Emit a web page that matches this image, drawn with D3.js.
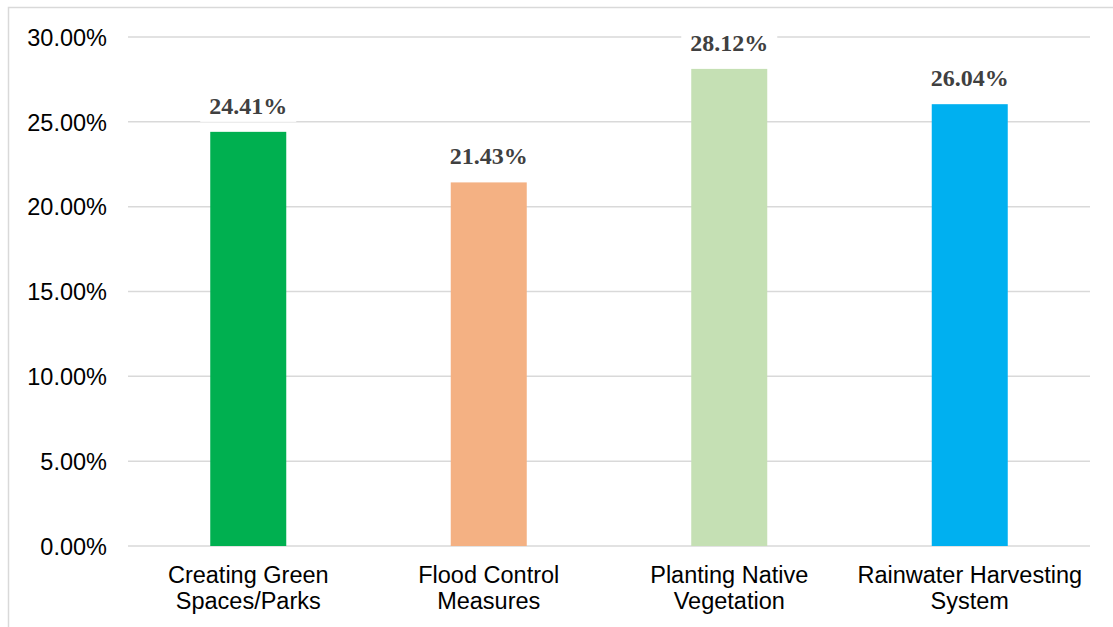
<!DOCTYPE html>
<html>
<head>
<meta charset="utf-8">
<script src="https://cdn.jsdelivr.net/npm/d3@7"></script>
<style>
  html, body { margin: 0; padding: 0; background: #fff; }
  svg { display: block; }
</style>
</head>
<body>
<svg id="chart" width="1113" height="627"></svg>
<script>
// Share of respondents choosing each measure
const categories = [
  ["Creating Green", "Spaces/Parks"],
  ["Flood Control", "Measures"],
  ["Planting Native", "Vegetation"],
  ["Rainwater Harvesting", "System"]
];
const values = [0.2441, 0.2143, 0.2812, 0.2604];
const colors = ["#00B050", "#F4B183", "#C5E0B4", "#00B0F0"];
const yTicks = [0, 0.05, 0.10, 0.15, 0.20, 0.25, 0.30];

const svg = d3.select("#chart");
const W = 1113, H = 627;
const plot = { left: 128, right: 1090, top: 37, bottom: 546 };

// Outer chart-area border
svg.append("rect")
  .attr("x", 8.5).attr("y", 7.5)
  .attr("width", W + 10).attr("height", H + 10)
  .attr("fill", "none").attr("stroke", "#d9d9d9").attr("stroke-width", 1.5);

const x = d3.scaleBand()
  .domain(d3.range(categories.length))
  .range([plot.left, plot.right])
  .paddingInner(0.684).paddingOuter(0.342);

const y = d3.scaleLinear().domain([0, 0.30]).range([plot.bottom, plot.top]);

// Horizontal gridlines
svg.append("g")
  .selectAll("line").data(yTicks).join("line")
  .attr("x1", plot.left).attr("x2", plot.right)
  .attr("y1", d => y(d)).attr("y2", d => y(d))
  .attr("stroke", "#d9d9d9").attr("stroke-width", 1.5);

// Y axis labels
const yAxis = d3.axisLeft(y).tickValues(yTicks)
  .tickFormat(d => (d * 100).toFixed(2) + "%")
  .tickSize(0).tickPadding(21);
const gy = svg.append("g").attr("transform", `translate(${plot.left},0)`).call(yAxis);
gy.select(".domain").remove();
gy.selectAll("text")
  .attr("font-family", "Liberation Sans, Arial, sans-serif")
  .attr("font-size", 23.5).attr("fill", "#000").attr("dy", "0.35em");

// Bars
svg.append("g")
  .selectAll("rect").data(values).join("rect")
  .attr("x", (d, i) => x(i)).attr("width", x.bandwidth())
  .attr("y", d => y(d)).attr("height", d => y(0) - y(d))
  .attr("fill", (d, i) => colors[i]);

// Value labels with white backing
const lab = svg.append("g").selectAll("g").data(values).join("g")
  .attr("transform", (d, i) => `translate(${x(i) + x.bandwidth() / 2},${y(d) - 18})`);
lab.append("rect")
  .attr("x", -48).attr("y", -24).attr("width", 96).attr("height", 32)
  .attr("fill", "#fff");
lab.append("text")
  .attr("text-anchor", "middle")
  .attr("font-family", "Liberation Serif, Times New Roman, serif")
  .attr("font-weight", "bold").attr("font-size", 24)
  .attr("fill", "#404040")
  .text(d => (d * 100).toFixed(2) + "%");

// Category labels (two lines)
const cat = svg.append("g").selectAll("text").data(categories).join("text")
  .attr("text-anchor", "middle")
  .attr("font-family", "Liberation Sans, Arial, sans-serif")
  .attr("font-size", 23.5).attr("fill", "#000")
  .attr("transform", (d, i) => `translate(${x(i) + x.bandwidth() / 2},0)`);
cat.selectAll("tspan").data(d => d).join("tspan")
  .attr("x", 0).attr("y", (d, j) => 583 + j * 26)
  .text(d => d);
</script>
</body>
</html>
